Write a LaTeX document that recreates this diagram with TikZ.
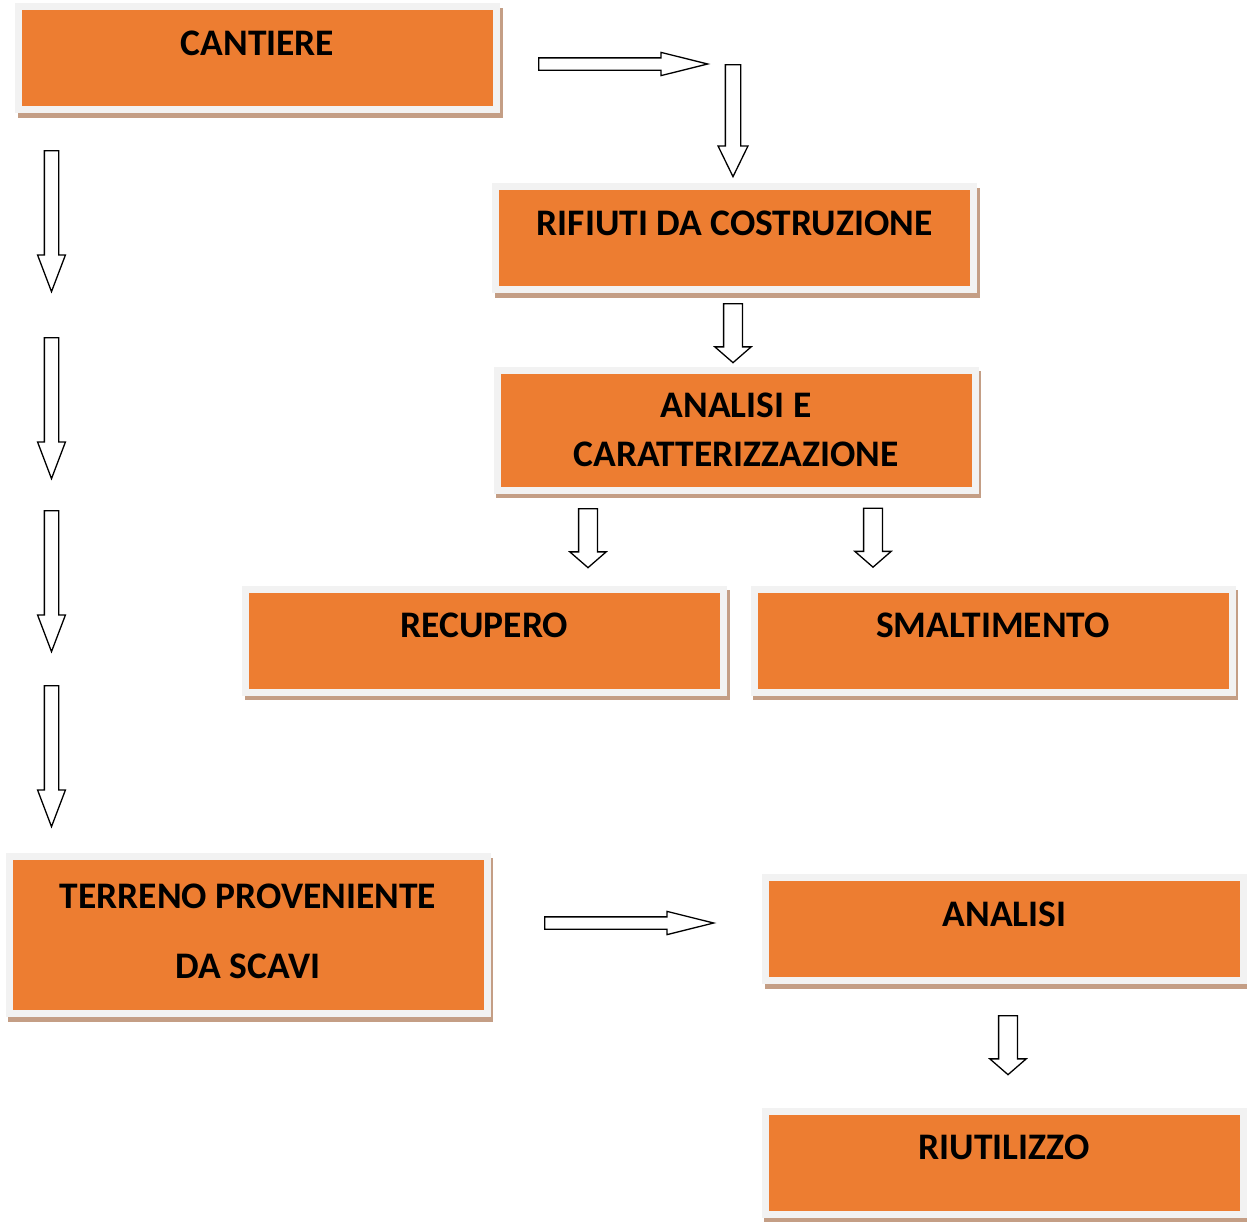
\documentclass[tikz,border=0pt]{standalone}
\usepackage{fontspec}
\setmainfont{Carlito}
\usetikzlibrary{shapes.arrows,backgrounds}
\definecolor{boxorange}{HTML}{ED7D31}
\definecolor{boxframe}{HTML}{F2F2F2}
\definecolor{boxshadow}{HTML}{C49E85}
\tikzset{
    boxbase/.style={rectangle,fill=boxorange,draw=boxframe,line width=7pt,minimum width=478pt},
    box/.style={boxbase,minimum height=103pt,text height=26pt,text depth=32pt},
    tallbox/.style={boxbase,align=center},
    arrowbase/.style={single arrow,draw=black,fill=white,line width=1.3pt,inner xsep=0pt,single arrow head indent=0pt,anchor=tail},
    longright/.style={arrowbase,minimum height=169pt,minimum width=22pt,inner ysep=5.5pt,single arrow head extend=5.5pt,single arrow tip angle=28},
    topdown/.style={arrowbase,rotate=-90,minimum height=112pt,minimum width=28.6pt,inner ysep=7pt,single arrow head extend=7.3pt,single arrow tip angle=52},
    bigdown/.style={arrowbase,rotate=-90,minimum height=141pt,minimum width=26.6pt,inner ysep=6.5pt,single arrow head extend=6.8pt,single arrow tip angle=41.6},
    smalldown/.style={arrowbase,rotate=-90,minimum height=59pt,minimum width=35pt,inner ysep=8.75pt,single arrow head extend=8.75pt,single arrow tip angle=98}
}
\begin{document}
\begin{tikzpicture}[x=1pt,y=-1pt,font=\bfseries\fontsize{37.5}{45}\selectfont]
    \useasboundingbox (0,0) rectangle (1247,1221);
    % boxes
    \node [box] (cant) at (257.5,58) {CANTIERE};
    \node [box] (rifiuti) at (734.5,238) {RIFIUTI DA COSTRUZIONE};
    \node [tallbox,minimum height=120pt] (caratt) at (736,430) {ANALISI E\\[4.5pt]CARATTERIZZAZIONE};
    \node [box] (recupero) at (484.5,640.5) {RECUPERO};
    \node [box] (smalt) at (993,640.5) {SMALTIMENTO};
    \node [tallbox,minimum height=157pt] (terreno) at (248,935) {TERRENO PROVENIENTE\\[25pt]DA SCAVI\\[-37pt]};
    \node [box] (analisi) at (1004.5,929) {ANALISI};
    \node [box] (riuso) at (1004,1162.5) {RIUTILIZZO};
    % shadows
    \begin{scope}[on background layer]
        \foreach \n in {cant,rifiuti,caratt,recupero,smalt,terreno,analisi,riuso}
            \fill [boxshadow] ([shift={(2.5pt,-4.5pt)}]\n.south west) rectangle ([shift={(2.5pt,-4.5pt)}]\n.north east);
    \end{scope}
    % block arrows, placed by their tails
    \node [longright] (toright) at (538,64) {};
    \node [topdown] (torifiuti) at (733,64) {};
    \node [smalldown] (tocaratt) at (733,303) {};
    \node [smalldown] (torecupero) at (588,508) {};
    \node [smalldown] (tosmalt) at (873,507.5) {};
    \foreach \y [count=\i] in {150,337,510,685}
        \node [bigdown] (left\i) at (51.5,\y) {};
    \node [longright] (toanalisi) at (544,923) {};
    \node [smalldown] (toriuso) at (1008,1015) {};
\end{tikzpicture}
\end{document}
